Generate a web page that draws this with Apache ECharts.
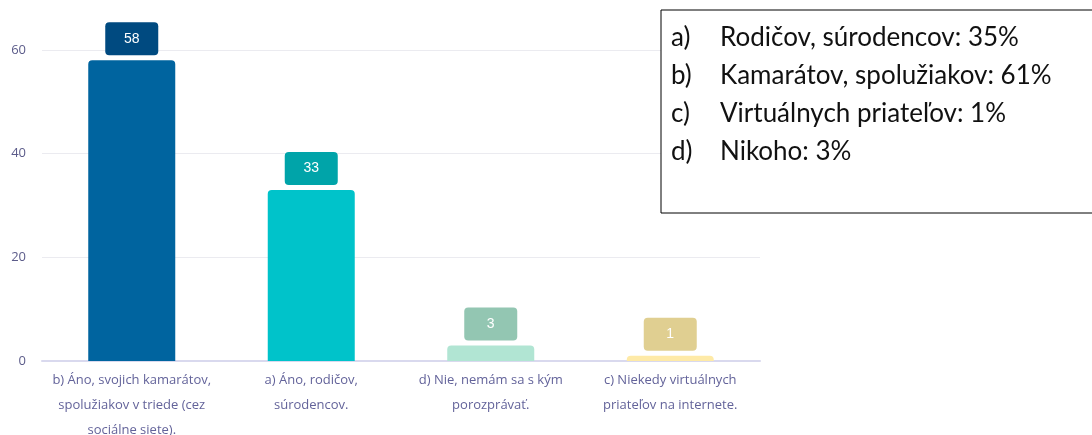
<!DOCTYPE html>
<html>
<head>
<meta charset="utf-8">
<script src="https://cdn.jsdelivr.net/npm/echarts@6/dist/echarts.min.js"></script>
<style>
  html, body { margin: 0; padding: 0; background: #fff; }
  #chart { width: 1092px; height: 435px; }
</style>
</head>
<body>
<div id="chart"></div>
<script>
    // data
    var categories = [
        'b) Áno, svojich kamarátov,\nspolužiakov v triede (cez\nsociálne siete).',
        'a) Áno, rodičov,\nsúrodencov.',
        'd) Nie, nemám sa s kým\nporozprávať.',
        'c) Niekedy virtuálnych\npriateľov na internete.'
    ];
    var values = [58, 33, 3, 1];
    var barColors = ['#00649f', '#00c3ca', '#b1e5d3', '#feeaa7'];
    var labelColors = ['#004a80', '#00a4a9', '#93c6b2', '#e0cf91'];
    var yTicks = { min: 0, max: 60, interval: 20 };
    var noteLines = [
        ['a)', 'Rodičov, súrodencov: 35%'],
        ['b)', 'Kamarátov, spolužiakov: 61%'],
        ['c)', 'Virtuálnych priateľov: 1%'],
        ['d)', 'Nikoho: 3%']
    ];

    var chart = echarts.init(document.getElementById('chart'));

    var seriesData = values.map(function (v, i) {
        return {
            value: v,
            itemStyle: { color: barColors[i] },
            label: { backgroundColor: labelColors[i] }
        };
    });

    // text box on the right
    var noteText = [];
    noteLines.forEach(function (l, i) {
        noteText.push({
            type: 'text', left: 671, top: 25 + i * 38,
            style: { text: l[0], font: '26px Lato', fill: '#111' }
        });
        noteText.push({
            type: 'text', left: 720, top: 25 + i * 38,
            style: { text: l[1], font: '26px Lato', fill: '#111' }
        });
    });

    chart.setOption({
        animation: false,
        grid: { left: 42, right: 332, top: 50, bottom: 74, outerBoundsMode: 'none' },
        xAxis: {
            type: 'category',
            data: categories,
            axisTick: { show: false },
            axisLine: { lineStyle: { color: '#d9d9ee', width: 2 } },
            axisLabel: {
                color: '#63639a',
                fontFamily: 'Open Sans',
                fontSize: 13,
                lineHeight: 25,
                margin: 7,
                interval: 0
            }
        },
        yAxis: {
            type: 'value',
            min: yTicks.min,
            max: yTicks.max,
            interval: yTicks.interval,
            axisLabel: { color: '#5c5c8a', fontFamily: 'Open Sans', fontSize: 13, margin: 16 },
            splitLine: { lineStyle: { color: '#ebebf0' } },
            axisLine: { show: false },
            axisTick: { show: false }
        },
        series: [{
            type: 'bar',
            data: seriesData,
            barWidth: 87,
            itemStyle: { borderRadius: [4, 4, 0, 0] },
            label: {
                show: true,
                position: 'top',
                distance: 5,
                color: '#fff',
                fontFamily: 'Arial',
                fontSize: 14,
                width: 53,
                align: 'center',
                lineHeight: 15,
                padding: [9, 0],
                borderRadius: 4
            }
        }],
        graphic: [{
            type: 'rect',
            shape: { x: 661, y: 10, width: 440, height: 203 },
            style: { fill: '#fff', stroke: '#000', lineWidth: 1 },
            z: 10
        }].concat(noteText.map(function (t) { t.z = 11; return t; }))
    });
</script>
</body>
</html>
